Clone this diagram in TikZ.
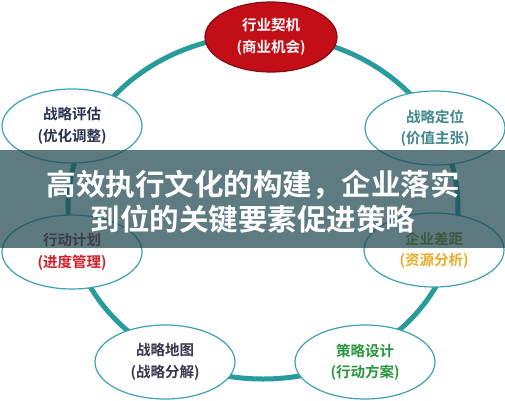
\documentclass[tikz,border=0pt]{standalone}
\usepackage{fontspec}
\setmainfont{Noto Sans CJK SC}[BoldFont = Noto Sans CJK SC Bold]
\usetikzlibrary{shapes.geometric}
\definecolor{ringteal}{RGB}{40,155,155}
\definecolor{rimblue}{RGB}{60,160,178}
\definecolor{bannergray}{RGB}{30,72,80}
\definecolor{chancered}{RGB}{195,14,24}
\definecolor{darkred}{RGB}{130,10,18}
\tikzset{%
  stagenode/.style = {shape=ellipse, draw=rimblue, line width=1.2pt,%
                      fill=white, align=center, inner sep=0pt,%
                      minimum width=140pt, minimum height=74pt,%
                      font=\fontsize{14.5}{21.5}\selectfont\bfseries},%
  chance/.style    = {stagenode, fill=chancered, draw=darkred,%
                      minimum width=132pt, minimum height=70pt, text=white},%
  ring/.style      = {draw=ringteal, line width=5pt},%
  banner/.style    = {fill=bannergray, fill opacity=0.72},%
  headline/.style  = {text=white, align=center,%
                      font=\fontsize{29.5}{35}\selectfont\bfseries}%
}
\begin{document}
\begin{tikzpicture}[x=1pt, y=-1pt]
  \useasboundingbox (0,0) rectangle (505,400);
  % the cycle
  \draw[ring] (263,207) ellipse [x radius=195, y radius=172];
  \node[chance] (chance) at (271,37) {行业契机\\(商业机会)};
  \node[stagenode, text={rgb,255:red,65;green,135;blue,140}] (position) at (435,128)
        {战略定位\\(价值主张)};
  \node[stagenode] (gap) at (434,250)
        {\textcolor[RGB]{150,130,20}{企业差距}\\\textcolor[RGB]{235,170,40}{(资源分析)}};
  \node[stagenode, text={rgb,255:red,40;green,150;blue,60}] (design) at (365,362)
        {策略设计\\(行动方案)};
  \node[stagenode, text={rgb,255:red,55;green,55;blue,75}] (map) at (165,362)
        {战略地图\\(战略分解)};
  \node[stagenode] (plan) at (72,252)
        {\textcolor[RGB]{150,30,40}{行动计划}\\\textcolor[RGB]{210,30,40}{(进度管理)}};
  \node[stagenode, text={rgb,255:red,40;green,50;blue,80}] (review) at (72,126)
        {战略评估\\(优化调整)};
  % title banner
  \fill[banner] (0,150) rectangle (505,248);
  \node[headline] (title) at (253,202)
        {高效执行文化的构建，企业落实\\到位的关键要素促进策略};
\end{tikzpicture}
\end{document}
